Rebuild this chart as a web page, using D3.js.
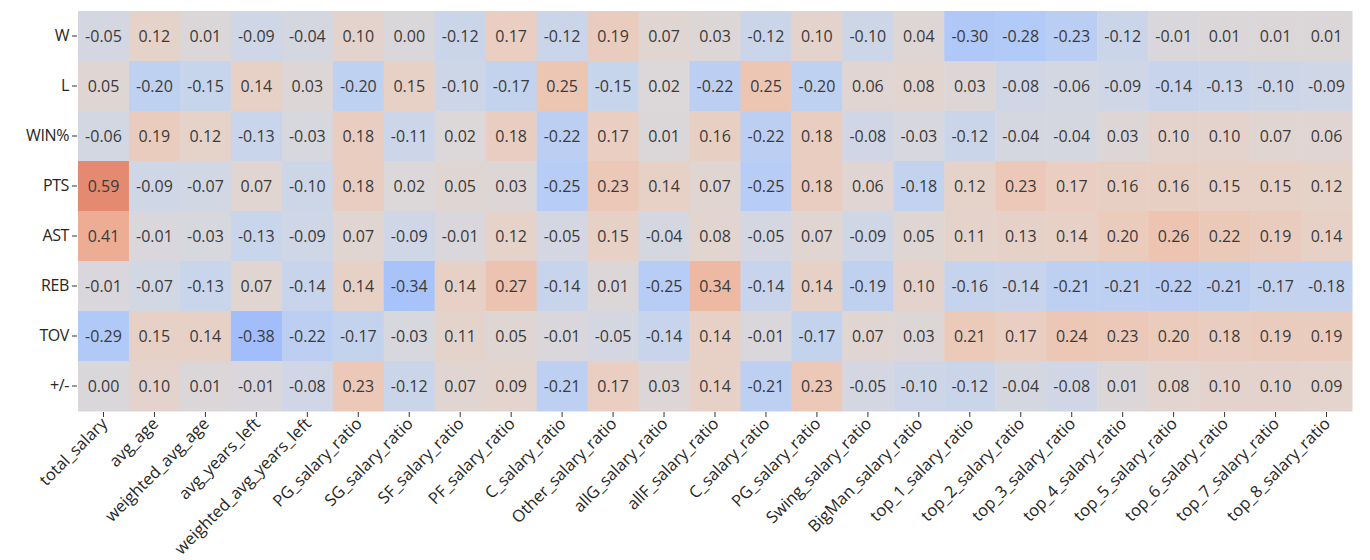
<!DOCTYPE html>
<html>
<head>
<meta charset="utf-8">
<script src="https://cdn.jsdelivr.net/npm/d3@7"></script>
<style>
  body { margin: 0; background: #fff; }
  svg text { font-family: "Open Sans", "Noto Sans", sans-serif; }
</style>
</head>
<body>
<div id="chart"></div>
<script>
// Correlation heatmap: team stats vs salary features

const rowLabels = ['W', 'L', 'WIN%', 'PTS', 'AST', 'REB', 'TOV', '+/-'];

const colLabels = [
    'total_salary', 'avg_age', 'weighted_avg_age', 'avg_years_left', 'weighted_avg_years_left',
    'PG_salary_ratio', 'SG_salary_ratio', 'SF_salary_ratio', 'PF_salary_ratio', 'C_salary_ratio',
    'Other_salary_ratio', 'allG_salary_ratio', 'allF_salary_ratio', 'C_salary_ratio', 'PG_salary_ratio',
    'Swing_salary_ratio', 'BigMan_salary_ratio', 'top_1_salary_ratio', 'top_2_salary_ratio',
    'top_3_salary_ratio', 'top_4_salary_ratio', 'top_5_salary_ratio', 'top_6_salary_ratio',
    'top_7_salary_ratio', 'top_8_salary_ratio'
];

const wVals   = [-0.05, 0.12, 0.01, -0.09, -0.04, 0.10, 0.00, -0.12, 0.17, -0.12, 0.19, 0.07, 0.03, -0.12, 0.10, -0.10, 0.04, -0.30, -0.28, -0.23, -0.12, -0.01, 0.01, 0.01, 0.01];
const lVals   = [0.05, -0.20, -0.15, 0.14, 0.03, -0.20, 0.15, -0.10, -0.17, 0.25, -0.15, 0.02, -0.22, 0.25, -0.20, 0.06, 0.08, 0.03, -0.08, -0.06, -0.09, -0.14, -0.13, -0.10, -0.09];
const winVals = [-0.06, 0.19, 0.12, -0.13, -0.03, 0.18, -0.11, 0.02, 0.18, -0.22, 0.17, 0.01, 0.16, -0.22, 0.18, -0.08, -0.03, -0.12, -0.04, -0.04, 0.03, 0.10, 0.10, 0.07, 0.06];
const ptsVals = [0.59, -0.09, -0.07, 0.07, -0.10, 0.18, 0.02, 0.05, 0.03, -0.25, 0.23, 0.14, 0.07, -0.25, 0.18, 0.06, -0.18, 0.12, 0.23, 0.17, 0.16, 0.16, 0.15, 0.15, 0.12];
const astVals = [0.41, -0.01, -0.03, -0.13, -0.09, 0.07, -0.09, -0.01, 0.12, -0.05, 0.15, -0.04, 0.08, -0.05, 0.07, -0.09, 0.05, 0.11, 0.13, 0.14, 0.20, 0.26, 0.22, 0.19, 0.14];
const rebVals = [-0.01, -0.07, -0.13, 0.07, -0.14, 0.14, -0.34, 0.14, 0.27, -0.14, 0.01, -0.25, 0.34, -0.14, 0.14, -0.19, 0.10, -0.16, -0.14, -0.21, -0.21, -0.22, -0.21, -0.17, -0.18];
const tovVals = [-0.29, 0.15, 0.14, -0.38, -0.22, -0.17, -0.03, 0.11, 0.05, -0.01, -0.05, -0.14, 0.14, -0.01, -0.17, 0.07, 0.03, 0.21, 0.17, 0.24, 0.23, 0.20, 0.18, 0.19, 0.19];
const pmVals  = [0.00, 0.10, 0.01, -0.01, -0.08, 0.23, -0.12, 0.07, 0.09, -0.21, 0.17, 0.03, 0.14, -0.21, 0.23, -0.05, -0.10, -0.12, -0.04, -0.08, 0.01, 0.08, 0.10, 0.10, 0.09];

const matrix = [wVals, lVals, winVals, ptsVals, astVals, rebVals, tovVals, pmVals];

// coolwarm-like colormap, vmin -1 .. vmax 1
const coolwarm = d3.interpolateRgbBasis([
    '#3b4cc0', '#5977e3', '#8db0fe', '#b8d0f9', '#dddcdc',
    '#f0cab6', '#eb9d80', '#d86a52', '#b40426'
]);
const color = d3.scaleSequential(coolwarm).domain([-1, 1]);

const width = 1370, height = 560;
const margin = { top: 11, right: 18, bottom: 149, left: 78 };

const svg = d3.select('#chart').append('svg')
    .attr('width', width)
    .attr('height', height);

const x = d3.scaleBand()
    .domain(d3.range(colLabels.length))
    .range([margin.left, width - margin.right]);

const y = d3.scaleBand()
    .domain(d3.range(rowLabels.length))
    .range([margin.top, height - margin.bottom]);

// flatten cells
const cells = [];
matrix.forEach((row, r) => row.forEach((v, c) => cells.push({ r, c, v })));

function textColor(v) {
    const c = d3.rgb(color(v));
    const lum = [c.r, c.g, c.b].map(ch => {
        ch /= 255;
        return ch <= 0.03928 ? ch / 12.92 : Math.pow((ch + 0.055) / 1.055, 2.4);
    });
    const l = 0.2126 * lum[0] + 0.7152 * lum[1] + 0.0722 * lum[2];
    return l > 0.3 ? '#3a3a3a' : '#ffffff';
}

const g = svg.append('g');

g.selectAll('rect.cell')
    .data(cells)
    .join('rect')
    .attr('class', 'cell')
    .attr('x', d => x(d.c))
    .attr('y', d => y(d.r))
    .attr('width', x.bandwidth() + 0.5)
    .attr('height', y.bandwidth() + 0.5)
    .attr('fill', d => color(d.v));

g.selectAll('text.val')
    .data(cells)
    .join('text')
    .attr('class', 'val')
    .attr('x', d => x(d.c) + x.bandwidth() / 2)
    .attr('y', d => y(d.r) + y.bandwidth() / 2)
    .attr('text-anchor', 'middle')
    .attr('dominant-baseline', 'central')
    .attr('font-size', 16)
    .attr('fill', d => textColor(d.v))
    .text(d => d.v.toFixed(2));

// Y axis
const yAxis = d3.axisLeft(y)
    .tickSize(5)
    .tickPadding(3)
    .tickFormat(i => rowLabels[i]);

svg.append('g')
    .attr('transform', `translate(${margin.left - 1},0)`)
    .call(yAxis)
    .call(s => s.select('.domain').remove())
    .call(s => s.selectAll('.tick line').attr('stroke', '#333'))
    .call(s => s.selectAll('.tick text')
        .attr('font-size', 16)
        .attr('letter-spacing', -0.4)
        .attr('fill', '#262626'));

// X axis
const xAxis = d3.axisBottom(x)
    .tickSize(5)
    .tickPadding(3)
    .tickFormat(i => colLabels[i]);

svg.append('g')
    .attr('transform', `translate(0,${height - margin.bottom + 1})`)
    .call(xAxis)
    .call(s => s.select('.domain').remove())
    .call(s => s.selectAll('.tick line').attr('stroke', '#333'))
    .call(s => s.selectAll('.tick text')
        .attr('font-size', 16.5)
        .attr('fill', '#262626')
        .attr('text-anchor', 'end')
        .attr('dy', '0.35em')
        .attr('transform', 'translate(-5,3) rotate(-45)'));
</script>
</body>
</html>
